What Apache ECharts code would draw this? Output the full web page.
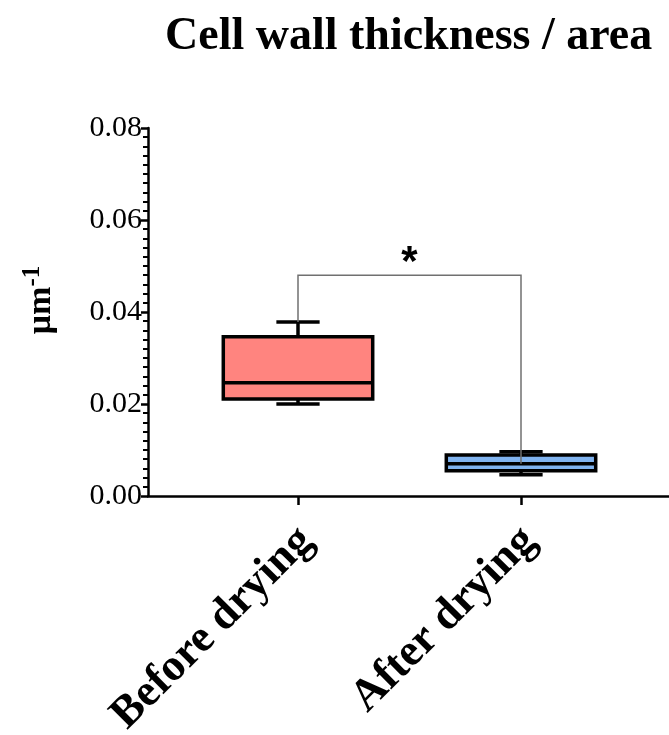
<!DOCTYPE html>
<html>
<head>
<meta charset="utf-8">
<script src="https://cdn.jsdelivr.net/npm/echarts@6/dist/echarts.min.js"></script>
<style>
  html, body { margin: 0; padding: 0; background: #fff; }
  #main { width: 669px; height: 735px; }
</style>
</head>
<body>
<div id="main"></div>
<script>
// 数据
var categories = ['Before drying', 'After drying'];
var boxMin = [0.0200, 0.0046];
var boxQ1 = [0.0211, 0.0055];
var boxMedian = [0.0246, 0.0070];
var boxQ3 = [0.0346, 0.0089];
var boxMax = [0.0378, 0.0096];
var boxColors = ['#ff847f', '#80b3ef'];
// 显著性标记：横线高度、左右两端落点
var sigLevel = [0.048];
var sigLeftEnd = [0.0378];
var sigRightEnd = [0.0070];
var sigText = ['*'];

var serif = 'Liberation Serif';
var chart = echarts.init(document.getElementById('main'));

var boxData = categories.map(function (c, i) {
  return [i, boxMin[i], boxQ1[i], boxMedian[i], boxQ3[i], boxMax[i]];
});

function renderBox(params, api) {
  var idx = api.value(0);
  var band = api.size([1, 0])[0];
  var halfBox = band * 0.335;
  var halfCap = band * 0.097;
  var pMin = api.coord([idx, api.value(1)]);
  var pQ1 = api.coord([idx, api.value(2)]);
  var pMed = api.coord([idx, api.value(3)]);
  var pQ3 = api.coord([idx, api.value(4)]);
  var pMax = api.coord([idx, api.value(5)]);
  var cx = pMed[0];
  var line = { stroke: '#000', lineWidth: 3.5 };
  return {
    type: 'group',
    children: [
      { type: 'line', shape: { x1: cx, y1: pMax[1], x2: cx, y2: pQ3[1] }, style: line },
      { type: 'line', shape: { x1: cx, y1: pMin[1], x2: cx, y2: pQ1[1] }, style: line },
      { type: 'line', shape: { x1: cx - halfCap, y1: pMax[1], x2: cx + halfCap, y2: pMax[1] }, style: line },
      { type: 'line', shape: { x1: cx - halfCap, y1: pMin[1], x2: cx + halfCap, y2: pMin[1] }, style: line },
      {
        type: 'rect',
        shape: { x: cx - halfBox, y: pQ3[1], width: halfBox * 2, height: pQ1[1] - pQ3[1] },
        style: { fill: boxColors[params.dataIndex], stroke: '#000', lineWidth: 3.5 }
      },
      { type: 'line', shape: { x1: cx - halfBox, y1: pMed[1], x2: cx + halfBox, y2: pMed[1] }, style: line }
    ]
  };
}

function renderSig(params, api) {
  var top = api.coord([0, api.value(0)]);
  var l = api.coord([0, api.value(1)]);
  var r = api.coord([1, api.value(2)]);
  return {
    type: 'group',
    children: [
      {
        type: 'polyline',
        shape: { points: [[l[0], l[1]], [l[0], top[1]], [r[0], top[1]], [r[0], r[1]]] },
        style: { stroke: '#707070', lineWidth: 1.5, fill: null }
      },
      {
        type: 'text',
        x: (l[0] + r[0]) / 2,
        y: top[1] - 12,
        style: {
          text: sigText[0],
          fill: '#000',
          font: 'bold 42px "Liberation Sans"',
          align: 'center',
          verticalAlign: 'middle'
        }
      }
    ]
  };
}

var option = {
  backgroundColor: '#fff',
  animation: false,
  title: {
    text: 'Cell wall thickness / area',
    left: 160,
    top: 9,
    textStyle: { fontFamily: serif, fontSize: 46, fontWeight: 'bold', color: '#000' }
  },
  grid: [
    { left: 148, right: 0, top: 128, height: 368, containLabel: false, outerBoundsMode: 'none' },
    { left: 186.5, right: 36.5, top: 128, height: 368, containLabel: false, outerBoundsMode: 'none' }
  ],
  xAxis: [
    {
      type: 'value', gridIndex: 0, min: 0, max: 1,
      axisLine: { show: true, lineStyle: { color: '#000', width: 2.5 } },
      axisTick: { show: false }, axisLabel: { show: false }, splitLine: { show: false }
    },
    {
      type: 'category', gridIndex: 1, data: categories,
      axisLine: { show: false },
      axisTick: { show: true, alignWithLabel: true, length: 9, lineStyle: { color: '#000', width: 2.5 } },
      axisLabel: {
        rotate: 45, margin: 30, color: '#000',
        verticalAlign: 'top', lineHeight: 24,
        fontFamily: serif, fontSize: 45, fontWeight: 'bold'
      },
      splitLine: { show: false }
    }
  ],
  yAxis: [
    {
      type: 'value', gridIndex: 0, min: 0, max: 0.08, interval: 0.02,
      name: '{a|μm}{b|-1}',
      nameLocation: 'middle', nameRotate: 90, nameGap: 86,
      nameTextStyle: {
        padding: [0, 0, 0, 24],
        rich: {
          a: { fontFamily: serif, fontSize: 34, fontWeight: 'bold', color: '#000', lineHeight: 42 },
          b: { fontFamily: serif, fontSize: 25, fontWeight: 'bold', color: '#000', verticalAlign: 'top', lineHeight: 42 }
        }
      },
      axisLine: { show: true, lineStyle: { color: '#000', width: 2.5 } },
      axisTick: { show: true, length: 7, lineStyle: { color: '#000', width: 2.5 } },
      minorTick: { show: true, splitNumber: 10, length: 5, lineStyle: { color: '#000', width: 2 } },
      axisLabel: {
        margin: 6, color: '#000', fontFamily: serif, fontSize: 30,
        formatter: function (v) { return v.toFixed(2); }
      },
      splitLine: { show: false }
    },
    { type: 'value', gridIndex: 1, min: 0, max: 0.08, show: false }
  ],
  series: [
    {
      type: 'custom', name: 'box', xAxisIndex: 1, yAxisIndex: 1,
      renderItem: renderBox, data: boxData, z: 5
    },
    {
      type: 'custom', name: 'sig', xAxisIndex: 1, yAxisIndex: 1,
      renderItem: renderSig, data: [[sigLevel[0], sigLeftEnd[0], sigRightEnd[0]]], z: 6
    }
  ]
};

chart.setOption(option);
</script>
</body>
</html>
